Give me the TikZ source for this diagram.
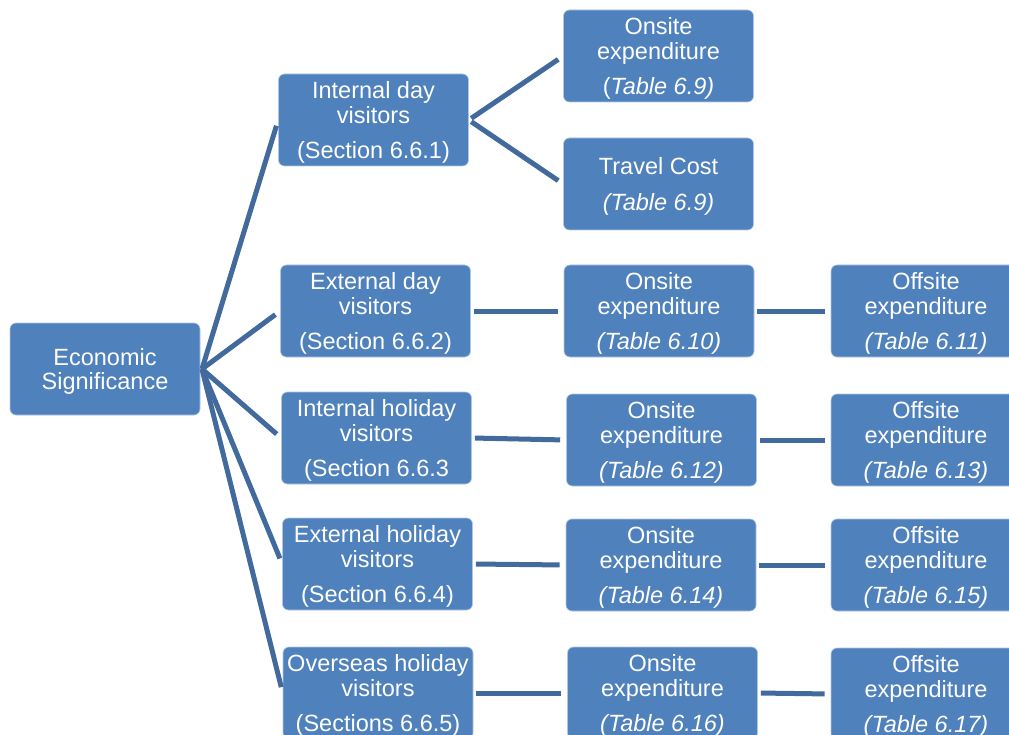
\documentclass[tikz,border=0pt]{standalone}
\usepackage{fontspec}
\setmainfont{Liberation Sans}
\definecolor{boxblue}{RGB}{79,129,189}
\definecolor{linkblue}{RGB}{66,106,157}
\tikzset{
  box/.style={rectangle, rounded corners=6pt, fill=boxblue, draw=white!55!boxblue, line width=0.6pt,
    minimum width=190pt, minimum height=92pt, inner sep=0pt, text=white, align=center,
    text depth=0pt, font=\fontsize{23.5}{24.8}\selectfont},
  link/.style={draw=linkblue, line width=5pt, shorten <=3pt, shorten >=6pt}
}
\begin{document}
\begin{tikzpicture}[x=1pt,y=-1pt]
\useasboundingbox (0,0) rectangle (1009,735);
\clip (0,0) rectangle (1009,735);
% root
\node[box] (econ) at (105,369) {Economic\\Significance};
% visitor groups
\node[box] (intday) at (373.5,120) {Internal day\\visitors\\[10.5pt](Section 6.6.1)};
\node[box] (extday) at (375.5,311) {External day\\visitors\\[10.5pt](Section 6.6.2)};
\node[box] (inthol) at (376.5,438) {Internal holiday\\visitors\\[10.5pt](Section 6.6.3};
\node[box] (exthol) at (377.5,564) {External holiday\\visitors\\[10.5pt](Section 6.6.4)};
\node[box] (ovhol) at (378,693) {Overseas holiday\\visitors\\[10.5pt](Sections 6.6.5)};
% onsite and travel cost
\node[box] (on1) at (658.5,56) {Onsite\\expenditure\\[10.5pt](\textit{Table 6.9)}};
\node[box] (travel) at (658.5,184) {Travel Cost\\[10.5pt]\textit{(Table 6.9)}};
\node[box] (on2) at (659,311) {Onsite\\expenditure\\[10.5pt]\textit{(Table 6.10)}};
\node[box] (on3) at (661.5,440) {Onsite\\expenditure\\[10.5pt]\textit{(Table 6.12)}};
\node[box] (on4) at (661,565) {Onsite\\expenditure\\[10.5pt]\textit{(Table 6.14)}};
\node[box] (on5) at (662.5,693) {Onsite\\expenditure\\[10.5pt]\textit{(Table 6.16)}};
% offsite
\node[box] (off1) at (926,311) {Offsite\\expenditure\\[10.5pt]\textit{(Table 6.11)}};
\node[box] (off2) at (926,440) {Offsite\\expenditure\\[10.5pt]\textit{(Table 6.13)}};
\node[box] (off3) at (926,565) {Offsite\\expenditure\\[10.5pt]\textit{(Table 6.15)}};
\node[box] (off4) at (926,694) {Offsite\\expenditure\\[10.5pt]\textit{(Table 6.17)}};
% connectors
\coordinate (hub) at (202,369);
\foreach \t in {intday,extday,inthol,exthol,ovhol}
  \draw[link, shorten <=0pt] (hub) -- (\t.west);
\draw[link] (intday.east) -- (on1.west);
\draw[link] (intday.east) -- (travel.west);
\draw[link] (extday.east) -- (on2.west);
\draw[link] (inthol.east) -- (on3.west);
\draw[link] (exthol.east) -- (on4.west);
\draw[link] (ovhol.east) -- (on5.west);
\draw[link] (on2.east) -- (off1.west);
\draw[link] (on3.east) -- (off2.west);
\draw[link] (on4.east) -- (off3.west);
\draw[link] (on5.east) -- (off4.west);
\end{tikzpicture}
\end{document}
